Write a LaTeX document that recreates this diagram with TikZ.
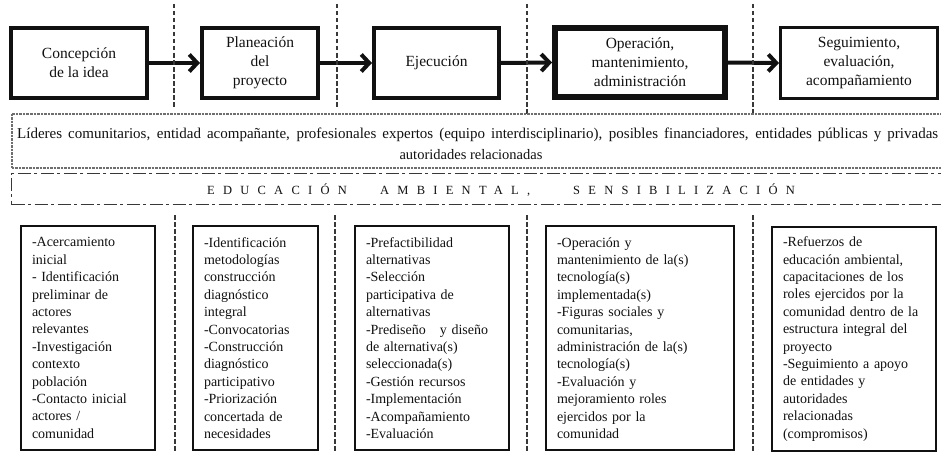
\documentclass[tikz,border=0pt]{standalone}
\usepackage{fontspec}
\setmainfont{Liberation Serif}
\newfontfamily\spacedfont[LetterSpace=66]{Liberation Serif}
\usetikzlibrary{arrows.meta}
\definecolor{ink}{HTML}{111111}
\definecolor{sepgray}{HTML}{383838}
\definecolor{boxgray}{HTML}{6E6E6E}
\begin{document}
\begin{tikzpicture}[x=1pt,y=-1pt,
  phase/.style={draw=ink, line width=4pt, minimum height=70pt, inner sep=0pt, align=center, font=\fontsize{15.5}{19}\selectfont, text=ink},
  task/.style={draw=ink, line width=2pt, minimum height=224pt, inner xsep=11pt, inner ysep=0pt, align=left, font=\fontsize{14}{17.4}\selectfont, text=ink},
  flow/.style={draw=ink, line width=4pt, -{Straight Barb[length=8pt,width=17pt]}},
  sep/.style={draw=sepgray, line width=2pt, dash pattern=on 4.5pt off 2.5pt},
  actorbox/.style={draw=boxgray, line width=2pt, dash pattern=on 2.5pt off 1pt, inner sep=0pt},
  edubox/.style={draw=sepgray, line width=1.6pt, dash pattern=on 13pt off 3.5pt on 3pt off 3.5pt, inner sep=0pt},
  plain/.style={inner sep=0pt, text=ink},
]
\useasboundingbox (0,0) rectangle (941,452);
\fill[white] (0,0) rectangle (941,452);

% top phases
\node[phase, minimum width=136pt] (p1) at (79,63) {Concepción\\de la idea};
\node[phase, minimum width=116pt] (p2) at (260,63) {Planeación\\del\\proyecto};
\node[phase, minimum width=125pt] (p3) at (436.5,63) {Ejecución};
\node[phase, line width=6pt, minimum width=170pt, minimum height=69pt] (p4) at (640,62.5) {Operación,\\mantenimiento,\\administración};
\node[phase, line width=3pt, minimum width=157pt, minimum height=71pt] (p5) at (859,63) {Seguimiento,\\evaluación,\\acompañamiento};

\draw[flow] (p1.east) -- (p2.west);
\draw[flow] (p2.east) -- (p3.west);
\draw[flow] (p3.east) -- (p4.west);
\draw[flow] (p4.east) -- (p5.west);

% top separators
\draw[sep] (174,4) -- (174,107);
\draw[sep] (337,4) -- (337,107);
\draw[sep] (527,4) -- (527,115);
\draw[sep] (753,4) -- (753,115);

% actors band
\node[actorbox, minimum width=960pt, minimum height=54pt] (actors) at (491.5,140.5) {};
\node[plain, anchor=west, font=\fontsize{15}{17}\selectfont] (act1) at (17,135) {\makebox[921pt][s]{Líderes comunitarios, entidad acompañante, profesionales expertos (equipo interdisciplinario), posibles financiadores, entidades públicas y privadas}};
\node[plain, font=\fontsize{14.5}{17}\selectfont] (act2) at (471,155) {autoridades relacionadas};

% education band
\node[edubox, minimum width=960pt, minimum height=31pt] (edu) at (491.5,189) {};
\node[plain, anchor=base west, font=\fontsize{12.5}{14}\spacedfont] (w1) at (207,194) {EDUCACIÓN};
\node[plain, anchor=base west, font=\fontsize{12.5}{14}\spacedfont] (w2) at (380,194) {AMBIENTAL,};
\node[plain, anchor=base west, font=\fontsize{12.5}{14}\spacedfont] (w3) at (573,194) {SENSIBILIZACIÓN};

% bottom separators
\draw[sep] (175,215) -- (175,452);
\draw[sep] (335,215) -- (335,452);
\draw[sep] (527,215) -- (527,452);
\draw[sep] (753,215) -- (753,452);

% activity boxes
\node[task, text width=112pt] (t1) at (88,338) {-Acercamiento\\inicial\\- Identificación\\preliminar de\\actores\\relevantes\\-Investigación\\contexto\\población\\-Contacto inicial\\actores /\\comunidad};
\node[task, text width=103pt] (t2) at (255.5,338) {-Identificación\\metodologías\\construcción\\diagnóstico\\integral\\-Convocatorias\\-Construcción\\diagnóstico\\participativo\\-Priorización\\concertada de\\necesidades};
\node[task, text width=132pt] (t3) at (432,338) {-Prefactibilidad\\alternativas\\-Selección\\participativa de\\alternativas\\-Prediseño\hspace{14pt}y diseño\\de alternativa(s)\\seleccionada(s)\\-Gestión recursos\\-Implementación\\-Acompañamiento\\-Evaluación};
\node[task, text width=166pt] (t4) at (640,338) {-Operación y\\mantenimiento de la(s)\\tecnología(s)\\implementada(s)\\-Figuras sociales y\\comunitarias,\\administración de la(s)\\tecnología(s)\\-Evaluación y\\mejoramiento roles\\ejercidos por la\\comunidad};
\node[task, text width=142pt] (t5) at (854,339) {-Refuerzos de\\educación ambiental,\\capacitaciones de los\\roles ejercidos por la\\comunidad dentro de la\\estructura integral del\\proyecto\\-Seguimiento a apoyo\\de entidades y\\autoridades\\relacionadas\\(compromisos)};
\end{tikzpicture}
\end{document}
